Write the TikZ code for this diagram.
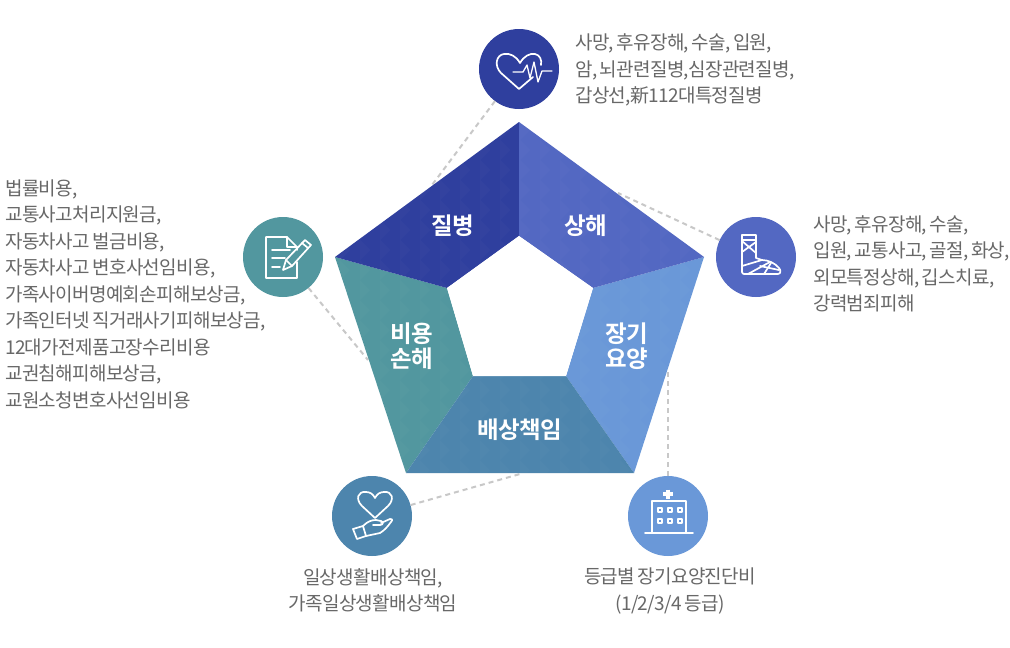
\documentclass[tikz,border=0pt]{standalone}
\usepackage{fontspec}
\setmainfont{Noto Sans CJK KR}[LetterSpace=-3.5,WordSpace=0.7]
\newfontfamily\lab{Noto Sans CJK KR}[BoldFont={* Bold},LetterSpace=-2]
\definecolor{cA}{HTML}{2F3F9E}
\definecolor{cB}{HTML}{5368C2}
\definecolor{cC}{HTML}{6A98D8}
\definecolor{cD}{HTML}{4D85AD}
\definecolor{cE}{HTML}{52979F}
\definecolor{txt}{HTML}{686868}
\definecolor{dashc}{HTML}{C8C8C8}
\tikzset{
 x=1pt,y=-1pt,
 badge/.style={circle,minimum size=80pt,inner sep=0pt,draw=none},
 desc/.style={inner sep=0pt,text=txt,font=\fontsize{19}{26.5}\selectfont},
 seglabel/.style={inner sep=0pt,text=white,align=center,font=\lab\bfseries\fontsize{23.5}{25.5}\selectfont},
 link/.style={draw=dashc,line width=2pt,dash pattern=on 5pt off 4pt},
 icon/.style={draw=white,line width=1.7pt,line join=round,line cap=round},
}
\begin{document}
\begin{tikzpicture}
\useasboundingbox (0,0) rectangle (1010,648);
\fill[white] (0,0) rectangle (1010,648);
% anchors on the pentagon
\coordinate (pA) at (432,185);
\coordinate (pB) at (618,193);
\coordinate (pC) at (668,372);
\coordinate (pD) at (520,474);
\coordinate (pE) at (368,360);
% badges
\node[badge,fill=cA] (heart) at (519,69) {};
\node[badge,fill=cB] (cast) at (756,257) {};
\node[badge,fill=cE] (doc) at (283,257) {};
\node[badge,fill=cD] (hand) at (372,516) {};
\node[badge,fill=cC] (hosp) at (668,516) {};
% connectors
\draw[link] (heart) -- (pA);
\draw[link] (cast) -- (pB);
\draw[link] (doc) -- (pE);
\draw[link] (hand) -- (pD);
\draw[link] (hosp) -- (pC);
% pentagon
\fill[cE] (335,257) -- (447,288) -- (473,376) -- (406,473) -- cycle;
\fill[cC] (704,257) -- (634,473) -- (566,376) -- (593,288) -- cycle;
\fill[cD] (473,376) -- (566,376) -- (634,473) -- (406,473) -- cycle;
\fill[cA] (335,257) -- (519,122) -- (519,236) -- (447,288) -- cycle;
\fill[cB] (519,122) -- (704,257) -- (593,288) -- (519,236) -- cycle;
% woven texture of the pentagon
\begin{scope}
\clip (519,122) -- (704,257) -- (634,473) -- (406,473) -- (335,257) -- cycle;
\foreach \tx in {320,340,...,700}{
  \foreach \ty in {120,140,...,460}{
    \fill[white,opacity=0.02] (\tx,\ty) -- (\tx+10,\ty+10) -- (\tx,\ty+20) -- cycle;
  }
}
\end{scope}
\fill[white] (519,236) -- (593,288) -- (566,376) -- (473,376) -- (447,288) -- cycle;
% segment labels
\node[seglabel] (l1) at (453,226) {질병};
\node[seglabel] (l2) at (586,226) {상해};
\node[seglabel] (l3) at (627,346) {장기\\요양};
\node[seglabel] (l4) at (520,430) {배상책임};
\node[seglabel] (l5) at (412,346) {비용\\손해};
% descriptions
\node[desc,anchor=west,align=left] (t1) at (575,70) {사망, 후유장해, 수술, 입원,\\암, 뇌관련질병,심장관련질병,\\갑상선,新112대특정질병};
\node[desc,anchor=west,align=left] (t2) at (813,264) {사망, 후유장해, 수술,\\입원, 교통사고, 골절, 화상,\\외모특정상해, 깁스치료,\\강력범죄피해};
\node[desc,anchor=west,align=left] (t3) at (5,294) {법률비용,\\교통사고처리지원금,\\자동차사고 벌금비용,\\자동차사고 변호사선임비용,\\가족사이버명예회손피해보상금,\\가족인터넷 직거래사기피해보상금,\\12대가전제품고장수리비용\\교권침해피해보상금,\\교원소청변호사선임비용};
\node[desc,align=center] (t4) at (373,590.5) {일상생활배상책임,\\가족일상생활배상책임};
\node[desc,align=center] (t5) at (670,591) {등급별 장기요양진단비\\(1/2/3/4 등급)};
% heart icon
\draw[icon] (533,77) -- (519,89) -- (501,73) .. controls (494,66) and (496,55) .. (504,54) .. controls (510,53) and (516,56) .. (520,63) .. controls (524,56) and (530,53) .. (535,54) .. controls (540,55) and (542,60) .. (541,65);
\draw[icon,line width=1.3pt] (513,72) -- (523,72) -- (527,65) -- (530,78) -- (534,62) -- (538,82) -- (542,71) -- (552,71);
% cast icon
\draw[icon] (742,235) rectangle (756,240);
\draw[icon] (742,240) -- (742,272) .. controls (742,273) and (743,274) .. (744,274) -- (778,274) .. controls (781,274) and (781,270) .. (779,268) .. controls (775,263) and (768,260) .. (762,260) -- (756,258) -- (756,240);
\draw[icon] (742,241) -- (756,253);
\draw[icon] (742,252) -- (756,242);
\draw[icon] (742,266) -- (762,260);
\draw[icon] (748,274) -- (770,262);
\draw[icon] (764,274) -- (771,263);
\draw[icon] (760,266) -- (779,270);
% document icon
\draw[icon] (297,262) -- (297,278) -- (266,278) -- (266,237) -- (287,237) -- (297,247) -- (297,250);
\draw[icon] (287,237) -- (287,247) -- (297,247);
\draw[icon] (272,250) -- (290,250);
\draw[icon] (272,258) -- (285,258);
\draw[icon] (272,267) -- (280,267);
\draw[icon] (283,270) -- (286,260) -- (305,240) -- (311,245) -- (292,266) -- cycle;
\draw[icon] (286,260) -- (292,266);
\draw[icon] (302,243) -- (308,248);
% hand icon
\draw[icon] (375,518) -- (362,506) .. controls (355,499) and (358,491) .. (366,492) .. controls (370,492) and (373,494) .. (375,498) .. controls (377,494) and (380,492) .. (384,492) .. controls (392,491) and (395,499) .. (388,506) -- cycle;
\draw[icon] (353,529) -- (363,526) -- (366,536) -- (357,539) -- cycle;
\draw[icon] (363,526) .. controls (368,521) and (372,520) .. (376,520) -- (381,521) .. controls (384,522) and (383,525) .. (380,525) -- (373,525);
\draw[icon] (381,523) -- (390,519) .. controls (392,518) and (393,520) .. (391,522) .. controls (388,526) and (385,530) .. (380,533) -- (366,536);
% hospital icon
\draw[icon] (652,533) -- (652,501) -- (686,501) -- (686,533);
\draw[icon] (645,533) -- (693,533);
\draw[white,line width=3.4pt] (668,489.5) -- (668,498.5) (663,494) -- (673,494);
\foreach \wx in {660,670,680}{
  \foreach \wy in {510,521}{
    \draw[icon,line width=1.4pt] (\wx-2,\wy-2) rectangle (\wx+2,\wy+2);
  }
}
\end{tikzpicture}
\end{document}
